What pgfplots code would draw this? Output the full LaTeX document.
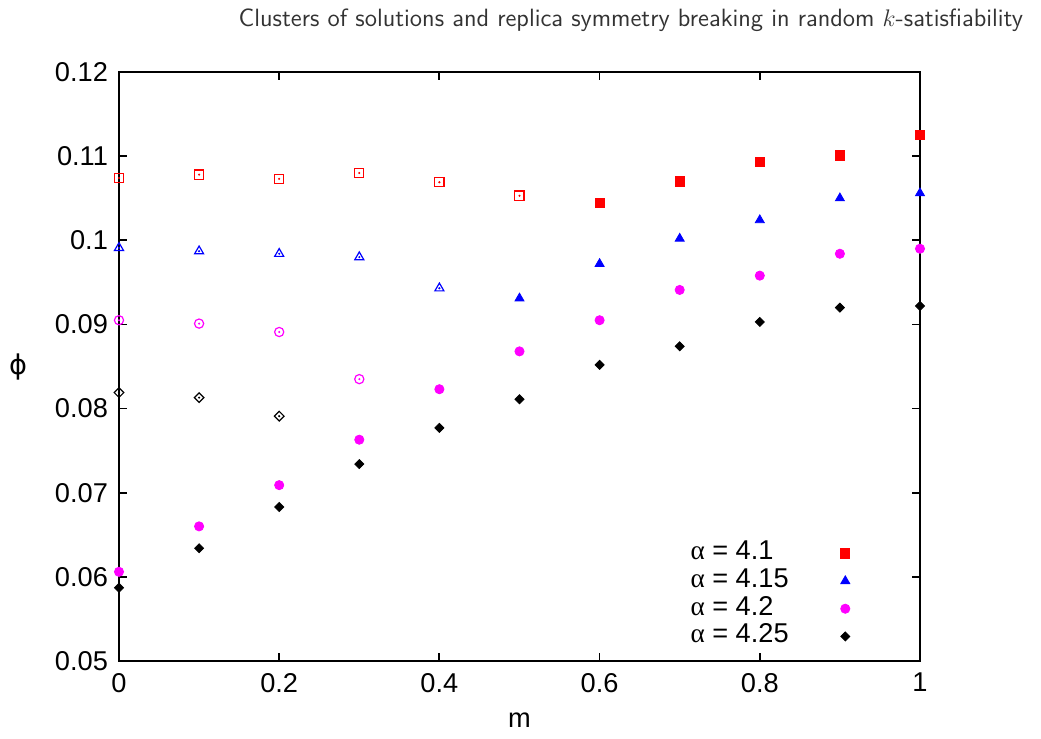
\documentclass[border=0pt]{standalone}
\usepackage{fontspec}
\setmainfont{Liberation Sans}
\newfontfamily\greekserif{Liberation Serif}
\newfontfamily\dejavu{DejaVu Sans}
\usepackage{pgfplots}
\pgfplotsset{compat=1.18}
\usepackage{pgfplotstable}

\definecolor{gred}{RGB}{255,0,0}
\definecolor{gblue}{RGB}{0,0,255}
\definecolor{gmag}{RGB}{255,0,255}

% filled points (1RSB, stable branch)
\pgfplotstableread{
m     phi
0.6   0.1044
0.7   0.1070
0.8   0.1093
0.9   0.1101
1.0   0.1125
}\redfull
\pgfplotstableread{
m     phi
0.5   0.0931
0.6   0.0972
0.7   0.1002
0.8   0.1024
0.9   0.1050
1.0   0.1056
}\bluefull
\pgfplotstableread{
m     phi
0.0   0.0606
0.1   0.0660
0.2   0.0709
0.3   0.0763
0.4   0.0823
0.5   0.0868
0.6   0.0905
0.7   0.0941
0.8   0.0958
0.9   0.0984
1.0   0.0990
}\magfull
\pgfplotstableread{
m     phi
0.0   0.0587
0.1   0.0634
0.2   0.0683
0.3   0.0734
0.4   0.0777
0.5   0.0811
0.6   0.0852
0.7   0.0874
0.8   0.0903
0.9   0.0920
1.0   0.0922
}\blackfull
% open points (other branch)
\pgfplotstableread{
m     phi
0.0   0.1074
0.1   0.1078
0.2   0.1073
0.3   0.1080
0.4   0.1069
0.5   0.1053
}\redopen
\pgfplotstableread{
m     phi
0.0   0.0991
0.1   0.0987
0.2   0.0984
0.3   0.0980
0.4   0.0943
}\blueopen
\pgfplotstableread{
m     phi
0.0   0.0905
0.1   0.0901
0.2   0.0891
0.3   0.0835
}\magopen
\pgfplotstableread{
m     phi
0.0   0.0819
0.1   0.0813
0.2   0.0791
}\blackopen

\begin{document}
\begin{tikzpicture}
\begin{axis}[
  at={(0,0)}, anchor=south west,
  scale only axis,
  width=400.5pt, height=294.5pt,
  xmin=0, xmax=1, ymin=0.05, ymax=0.12,
  xtick={0,0.2,0.4,0.6,0.8,1},
  xticklabels={0,0.2,0.4,0.6,0.8,1},
  ytick={0.05,0.06,0.07,0.08,0.09,0.1,0.11,0.12},
  yticklabels={0.05,0.06,0.07,0.08,0.09,0.1,0.11,0.12},
  tick align=inside,
  major tick length=4pt,
  axis line style={line width=0.9pt},
  every tick/.style={black, line width=0.9pt},
  tick label style={font=\fontsize{13.6pt}{16pt}\selectfont},
  xticklabel style={yshift=-2.5pt},
  yticklabel style={xshift=-2pt},
  xlabel={m},
  ylabel={{\dejavu ϕ}},
  label style={font=\fontsize{13.6pt}{16pt}\selectfont},
  xlabel style={at={(0.5,0)}, anchor=center, yshift=-29.5pt},
  ylabel style={at={(0,0.5)}, anchor=center, rotate=-90, xshift=-50.5pt},
  legend plot pos=right,
  legend cell align=left,
  legend style={draw=none, fill=none, inner sep=0pt,
    at={(0.713,0.207)}, anchor=north west,
    font=\fontsize{13.6pt}{16pt}\selectfont,
    nodes={inner sep=0pt, text height=10.2pt, text depth=3.65pt},
    row sep=0pt,
    /tikz/every odd column/.append style={column sep=26pt}},
  clip=false,
]
\addplot[only marks, mark=square*, mark size=2.3pt, color=gred] table[x=m,y=phi]{\redfull};
\addlegendentry{{\greekserif α} = 4.1}
\addplot[only marks, mark=triangle*, mark size=2.6pt, color=gblue] table[x=m,y=phi]{\bluefull};
\addlegendentry{{\greekserif α} = 4.15}
\addplot[only marks, mark=*, mark size=2.3pt, color=gmag] table[x=m,y=phi]{\magfull};
\addlegendentry{{\greekserif α} = 4.2}
\addplot[only marks, mark=square*, mark size=1.6pt, mark options={rotate=45}, color=black] table[x=m,y=phi]{\blackfull};
\addlegendentry{{\greekserif α} = 4.25}

\addplot[forget plot, only marks, mark=square, mark size=2.3pt, mark options={line width=0.6pt}, color=gred] table[x=m,y=phi]{\redopen};
\addplot[forget plot, only marks, mark=triangle, mark size=2.6pt, mark options={line width=0.6pt}, color=gblue] table[x=m,y=phi]{\blueopen};
\addplot[forget plot, only marks, mark=o, mark size=2.3pt, mark options={line width=0.6pt}, color=gmag] table[x=m,y=phi]{\magopen};
\addplot[forget plot, only marks, mark=square, mark size=1.7pt, mark options={rotate=45, line width=0.6pt}, color=black] table[x=m,y=phi]{\blackopen};
% centre dots of the open symbols
\addplot[forget plot, only marks, mark=*, mark size=0.3pt, color=gred] table[x=m,y=phi]{\redopen};
\addplot[forget plot, only marks, mark=*, mark size=0.3pt, color=gblue] table[x=m,y=phi]{\blueopen};
\addplot[forget plot, only marks, mark=*, mark size=0.3pt, color=gmag] table[x=m,y=phi]{\magopen};
\addplot[forget plot, only marks, mark=*, mark size=0.3pt, color=black] table[x=m,y=phi]{\blackopen};
\end{axis}
% page frame and running head
\useasboundingbox (-59.5pt,-39pt) rectangle (461pt,330.5pt);
\node[anchor=east, text=black!80, font=\sffamily\fontsize{12.5pt}{14pt}\selectfont]
  at (455.5pt,320.5pt) {Clusters of solutions and replica symmetry breaking in random $k$-satisfiability};
\end{tikzpicture}
\end{document}
